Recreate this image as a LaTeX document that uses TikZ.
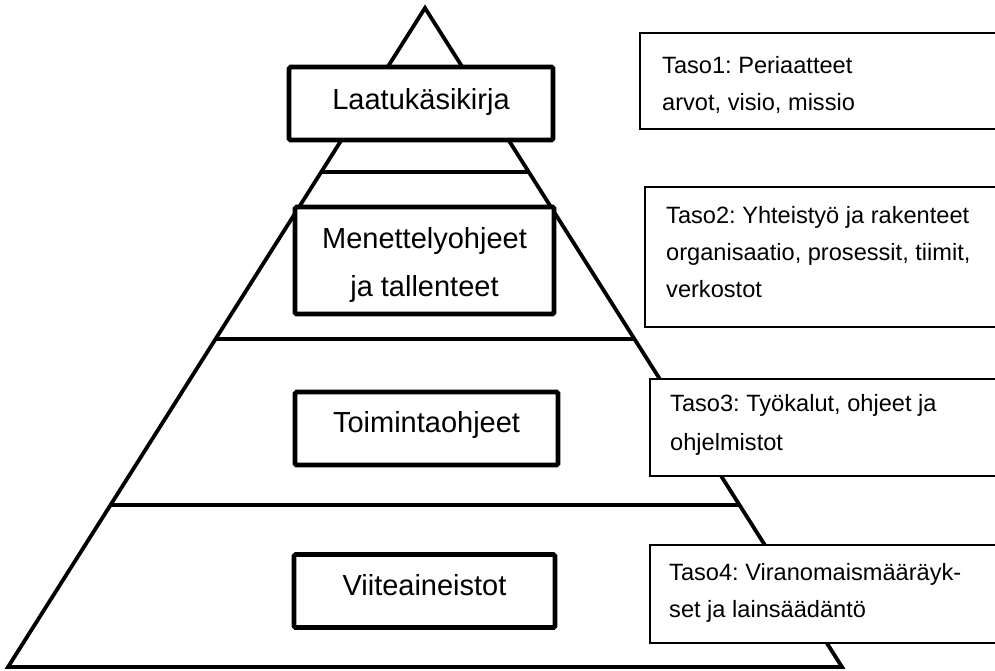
\documentclass[tikz,border=0pt]{standalone}
\usepackage{fontspec}
\setmainfont{Liberation Sans}
\usetikzlibrary{calc}
\frenchspacing
\begin{document}
\begin{tikzpicture}[x=1pt,y=-1pt,
  pyr/.style={line width=3.8pt, line join=miter, line cap=butt},
  bigbox/.style={draw, line width=4.6pt, fill=white, rounded corners=1.5pt, inner sep=0pt},
  bigtext/.style={font=\fontsize{29}{48}\selectfont, inner sep=0pt, anchor=base},
  tasobox/.style={draw, line width=1.2pt, fill=white},
  tasotext/.style={font=\fontsize{23.6}{36}\selectfont\frenchspacing, inner sep=0pt, anchor=base west}]
\useasboundingbox (0,0) rectangle (995,670);
\clip (0,0) rectangle (995,670);
\fill[white] (0,0) rectangle (995,670);
% pyramid
\coordinate (A) at (425,8);
\coordinate (BL) at (8,667);
\coordinate (BR) at (842,667);
\coordinate (l1) at ($(A)!0.2489!(BL)$);
\coordinate (r1) at ($(A)!0.2489!(BR)$);
\coordinate (l2) at ($(A)!0.5023!(BL)$);
\coordinate (r2) at ($(A)!0.5023!(BR)$);
\coordinate (l3) at ($(A)!0.7542!(BL)$);
\coordinate (r3) at ($(A)!0.7542!(BR)$);
\draw[pyr] (A) -- (BL) -- (BR) -- cycle;
\draw[pyr] (l1) -- (r1);
\draw[pyr] (l2) -- (r2);
\draw[pyr] (l3) -- (r3);
% level boxes
\node[bigbox, minimum width=264pt, minimum height=73pt] (b1) at (421,103.5) {};
\node[bigtext] (t1) at (421,109) {Laatukäsikirja};
\node[bigbox, minimum width=259pt, minimum height=107pt] (b2) at (424.5,260.5) {};
\node[bigtext] (t2a) at (424.5,248) {Menettelyohjeet};
\node[bigtext] (t2b) at (424.5,296) {ja tallenteet};
\node[bigbox, minimum width=263pt, minimum height=73pt] (b3) at (426.5,428.5) {};
\node[bigtext] (t3) at (426.5,432) {Toimintaohjeet};
\node[bigbox, minimum width=261pt, minimum height=73pt] (b4) at (424.5,591) {};
\node[bigtext] (t4) at (424.5,595) {Viiteaineistot};
% right description boxes
\draw[tasobox] (640,33) rectangle (1010,129);
\node[tasotext] (s1a) at (662,73) {Taso1: Periaatteet};
\node[tasotext] (s1b) at (662,110) {arvot, visio, missio};
\draw[tasobox] (645,187) rectangle (1010,327);
\node[tasotext] (s2a) at (666,223) {Taso2: Yhteistyö ja rakenteet};
\node[tasotext] (s2b) at (666,260) {organisaatio, prosessit, tiimit,};
\node[tasotext] (s2c) at (666,297) {verkostot};
\draw[tasobox] (650,379) rectangle (1010,476);
\node[tasotext] (s3a) at (670,411) {Taso3: Työkalut, ohjeet ja};
\node[tasotext] (s3b) at (670,450) {ohjelmistot};
\draw[tasobox] (650,545) rectangle (1010,643);
\node[tasotext] (s4a) at (669,580) {Taso4: Viranomaismääräyk-};
\node[tasotext] (s4b) at (669,617) {set ja lainsäädäntö};
\end{tikzpicture}
\end{document}
